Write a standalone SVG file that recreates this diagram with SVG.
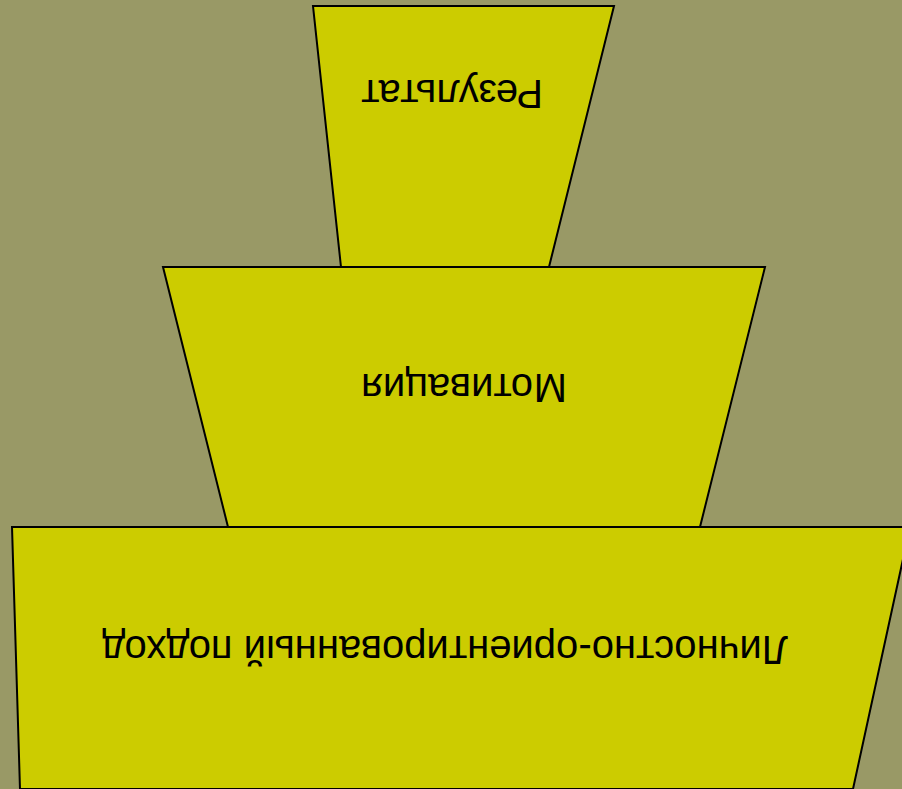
<svg xmlns="http://www.w3.org/2000/svg" width="902" height="789" viewBox="0 0 902 789">
<style>
.tier{fill:#CCCC00;stroke:#000;stroke-width:2;stroke-linejoin:miter}
.lbl{font-family:"Liberation Sans",Arial,sans-serif;font-size:40px;fill:#000;text-anchor:middle;dominant-baseline:central}
</style>
<rect x="0" y="0" width="902" height="789" fill="#999966"/>
<g id="node-result">
<polygon class="tier" points="313,6 614,6 549,267 341,267"/>
<text class="lbl" x="452" y="94" transform="rotate(180 452 94)">Результат</text>
</g>
<g id="node-motivation">
<polygon class="tier" points="163,267 765,267 700,527 228,527"/>
<text class="lbl" x="464" y="388" transform="rotate(180 464 388)">Мотивация</text>
</g>
<g id="node-approach">
<polygon class="tier" points="12,527 910,527 853,789 20,789"/>
<text class="lbl" x="445" y="650" transform="rotate(180 445 650)">Личностно-ориентированный подход</text>
</g>
<g id="connectors"></g>
</svg>
